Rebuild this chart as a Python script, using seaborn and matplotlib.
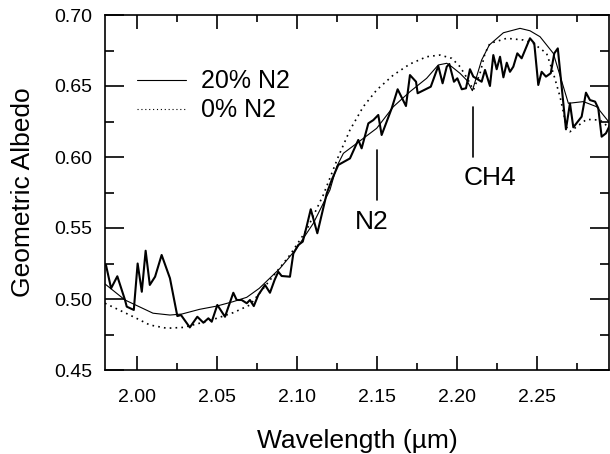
import numpy as np
import pandas as pd
import seaborn as sns
import matplotlib
matplotlib.use("Agg")
import matplotlib.pyplot as plt
from matplotlib.ticker import MultipleLocator

# Observed spectrum (noisy)
wave_obs = [1.9806, 1.9838, 1.9877, 1.9925, 1.9936, 1.998, 2.0004, 2.003, 2.0054, 2.008,
            2.0113, 2.0154, 2.0206, 2.0252, 2.0275, 2.033, 2.0377, 2.0415, 2.0446, 2.0467,
            2.0502, 2.055, 2.0602, 2.0623, 2.0654, 2.0686, 2.0706, 2.073, 2.0758, 2.080,
            2.0831, 2.086, 2.0883, 2.0904, 2.0956, 2.0977, 2.1008, 2.1036, 2.106, 2.1086,
            2.1127, 2.1186, 2.1217, 2.1258, 2.1331, 2.1383, 2.1404, 2.1446, 2.1477, 2.1508,
            2.1529, 2.1592, 2.1629, 2.1681, 2.1706, 2.1744, 2.1754, 2.1836, 2.1883, 2.191,
            2.1936, 2.1952, 2.1981, 2.2002, 2.203, 2.2056, 2.2081, 2.2102, 2.2154, 2.2175,
            2.2206, 2.2227, 2.2248, 2.2269, 2.229, 2.2311, 2.2331, 2.2352, 2.2377, 2.2404,
            2.2456, 2.2483, 2.2508, 2.2529, 2.2556, 2.2586, 2.2608, 2.263, 2.2681, 2.2706,
            2.2727, 2.2779, 2.2806, 2.2831, 2.2863, 2.2883, 2.2904, 2.2931, 2.2956]
albedo_obs = [0.524, 0.5075, 0.516, 0.4993, 0.4946, 0.4923, 0.525, 0.5051, 0.534, 0.5099,
              0.5157, 0.531, 0.5146, 0.488, 0.4887, 0.480, 0.4875, 0.4833, 0.4864, 0.484,
              0.4958, 0.4875, 0.5044, 0.4993, 0.4993, 0.497, 0.4993, 0.495, 0.5028, 0.5099,
              0.5044, 0.5134, 0.5192, 0.5162, 0.5157, 0.532, 0.538, 0.5404, 0.551, 0.5632,
              0.5463, 0.5744, 0.5838, 0.5944, 0.599, 0.612, 0.6061, 0.6237, 0.626, 0.6296,
              0.6155, 0.6343, 0.6477, 0.6359, 0.6577, 0.653, 0.6449, 0.6495, 0.6641, 0.6519,
              0.6636, 0.6655, 0.653, 0.6554, 0.6477, 0.6484, 0.6618, 0.6566, 0.653, 0.6613,
              0.65, 0.6718, 0.6618, 0.6706, 0.6561, 0.6664, 0.66, 0.6636, 0.673, 0.6695,
              0.6836, 0.68, 0.6507, 0.66, 0.6566, 0.659, 0.673, 0.6765, 0.6195, 0.6378,
              0.6209, 0.6284, 0.6453, 0.6401, 0.639, 0.6343, 0.6143, 0.6167, 0.6225]

# Model with 20% N2
wave_20 = [1.98, 1.9925, 2.010, 2.0206, 2.028, 2.039, 2.0498, 2.060, 2.0686, 2.0764,
           2.0894, 2.0998, 2.1102, 2.1206, 2.1248, 2.129, 2.1373, 2.1498, 2.1602, 2.1706,
           2.181, 2.1883, 2.1936, 2.1967, 2.2019, 2.206, 2.2096, 2.2154, 2.2202, 2.229,
           2.2394, 2.2456, 2.2519, 2.2602, 2.2696, 2.279, 2.2873, 2.2956]
albedo_20 = [0.5106, 0.4993, 0.490, 0.4887, 0.4894, 0.4927, 0.495, 0.4981, 0.5012, 0.5075,
             0.5216, 0.5357, 0.5533, 0.5768, 0.5932, 0.6026, 0.6096, 0.6202, 0.6354, 0.646,
             0.6554, 0.6648, 0.666, 0.6636, 0.6589, 0.6542, 0.6467, 0.6683, 0.6789, 0.6875,
             0.6906, 0.6889, 0.6847, 0.673, 0.6378, 0.639, 0.6354, 0.6237]

# Model with 0% N2
wave_0 = [1.98, 1.9977, 2.008, 2.0186, 2.029, 2.039, 2.0498, 2.0602, 2.0706, 2.079,
          2.0956, 2.106, 2.1164, 2.1258, 2.1331, 2.1414, 2.1498, 2.1602, 2.1706, 2.181,
          2.1894, 2.1967, 2.2019, 2.207, 2.2102, 2.2144, 2.2175, 2.2206, 2.2311, 2.2414,
          2.2477, 2.256, 2.2602, 2.2644, 2.2685, 2.2706, 2.281, 2.2894, 2.2956]
albedo_0 = [0.497, 0.4875, 0.4817, 0.4794, 0.480, 0.4829, 0.4864, 0.4904, 0.4958, 0.5075,
            0.531, 0.5486, 0.5732, 0.6002, 0.619, 0.6354, 0.6472, 0.6577, 0.6655, 0.6706,
            0.6718, 0.6695, 0.6636, 0.6542, 0.6472, 0.6589, 0.673, 0.68, 0.6836, 0.6824,
            0.68, 0.673, 0.659, 0.6425, 0.6209, 0.6178, 0.6265, 0.626, 0.6202]

# Absorption band markers
band_labels = ["N2", "CH4"]
band_wave = [2.15, 2.21]

sns.set_style("ticks")
plt.rcParams['font.family'] = ['Liberation Sans', 'DejaVu Sans']
plt.rcParams['text.color'] = 'black'
plt.rcParams['axes.labelcolor'] = 'black'

fig = plt.figure(figsize=(6.1, 4.54), dpi=100)
ax = fig.add_axes([105 / 610, 84 / 454, 504 / 610, 355 / 454])

sns.lineplot(x=wave_obs, y=albedo_obs, ax=ax, color="black", linewidth=1.5,
             estimator=None, sort=False, label="_nolegend_")
sns.lineplot(x=wave_20, y=albedo_20, ax=ax, color="black", linewidth=0.8,
             estimator=None, sort=False, label="20% N2")
sns.lineplot(x=wave_0, y=albedo_0, ax=ax, color="black", linewidth=1.2,
             linestyle=(0, (1, 2.5)), estimator=None, sort=False, label="0% N2")

ax.set_xlim(1.98, 2.295)
ax.set_ylim(0.45, 0.70)
ax.xaxis.set_major_locator(MultipleLocator(0.05))
ax.xaxis.set_minor_locator(MultipleLocator(0.025))
ax.yaxis.set_major_locator(MultipleLocator(0.05))
ax.yaxis.set_minor_locator(MultipleLocator(0.025))
ax.xaxis.set_major_formatter(plt.FormatStrFormatter("%.2f"))
ax.yaxis.set_major_formatter(plt.FormatStrFormatter("%.2f"))

ax.tick_params(axis="both", which="both", direction="in", top=True, right=True,
               width=1.2, labelsize=14, colors="black")
ax.tick_params(axis="x", which="major", length=10, pad=14)
ax.tick_params(axis="x", which="minor", length=5)
ax.tick_params(axis="y", which="major", length=13.5, pad=9)
ax.tick_params(axis="y", which="minor", length=6.5)
for s in ax.spines.values():
    s.set_linewidth(1.2)
    s.set_color("black")

ax.set_xlabel("Wavelength (\u00b5m)", fontsize=19, labelpad=16)
ax.set_ylabel("Geometric Albedo", fontsize=19, labelpad=14)

# band markers
ax.plot([band_wave[0], band_wave[0]], [0.570, 0.605], color="black", linewidth=1.2)
ax.text(band_wave[0] - 0.003, 0.554, band_labels[0], fontsize=19, ha="center", va="center")
ax.plot([band_wave[1], band_wave[1]], [0.600, 0.635], color="black", linewidth=1.2)
ax.text(band_wave[1] + 0.0105, 0.585, band_labels[1], fontsize=19, ha="center", va="center")

leg = ax.legend(loc="upper left", bbox_to_anchor=(0.044, 0.875), frameon=False,
                fontsize=18, handlelength=1.95, labelspacing=0.2, handletextpad=0.6,
                borderaxespad=0)
for line in leg.get_lines():
    line.set_linewidth(0.8)

fig.savefig("out.png", dpi=100)
